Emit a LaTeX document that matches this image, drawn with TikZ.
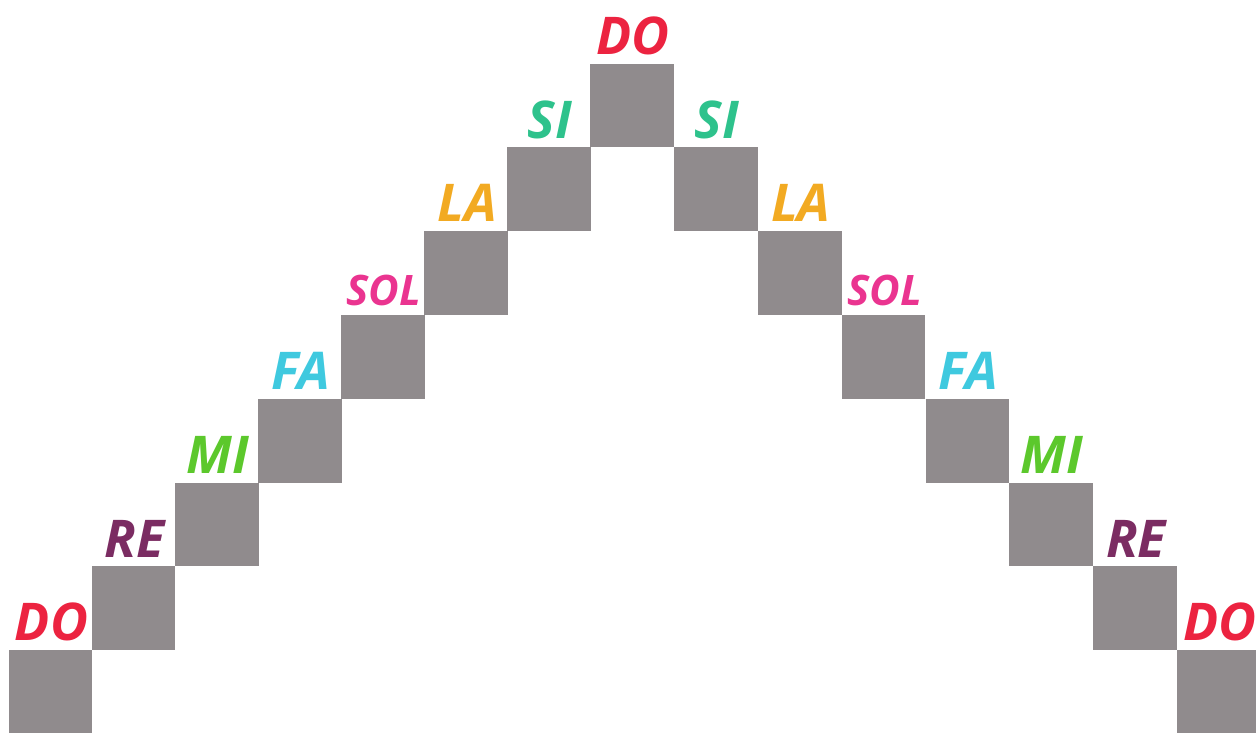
\documentclass[tikz,border=0pt]{standalone}
\usepackage{fontspec}
\setmainfont{Open Sans}
\definecolor{cdo}{HTML}{EC2340}
\definecolor{cre}{HTML}{7B2C62}
\definecolor{cmi}{HTML}{5CC82C}
\definecolor{cfa}{HTML}{3FC9DF}
\definecolor{csol}{HTML}{EA3490}
\definecolor{cla}{HTML}{F2AA22}
\definecolor{csi}{HTML}{2EC28C}
\definecolor{csq}{HTML}{908B8D}
\tikzset{
  sqbox/.style={fill=csq, draw=none, minimum width=83.6pt, minimum height=83.8pt, inner sep=0pt, anchor=north west},
  note/.style={anchor=base, inner sep=0pt, font=\fontsize{52}{52}\selectfont\bfseries\itshape},
  smallnote/.style={anchor=base, inner sep=0pt, font=\fontsize{42}{42}\selectfont\bfseries\itshape}
}
\begin{document}
\begin{tikzpicture}[x=1pt,y=1pt]
\useasboundingbox (0,0) rectangle (1256,733);
\clip (0,0) rectangle (1256,733);
% left side squares (k = 0 bottom DO ... 7 top DO)
\foreach \k/\nm/\col/\st in {0/DO/cdo/note,1/RE/cre/note,2/MI/cmi/note,3/FA/cfa/note,4/SOL/csol/smallnote,5/LA/cla/note,6/SI/csi/note,7/DO/cdo/note}{
  \node[sqbox] (L\k) at ({8.5+83.1*\k},{733-(650-83.8*\k)}) {};
  \node[\st, text=\col] (tL\k) at ([xshift=1pt,yshift=9pt]L\k.north) {\nm};
}
% right side squares (m = 1 SI ... 7 DO)
\foreach \m/\nm/\col/\st in {1/SI/csi/note,2/LA/cla/note,3/SOL/csol/smallnote,4/FA/cfa/note,5/MI/cmi/note,6/RE/cre/note,7/DO/cdo/note}{
  \node[sqbox] (R\m) at ({590.2+83.8*\m},{733-(63.4+83.8*\m)}) {};
  \node[\st, text=\col] (tR\m) at ([xshift=1pt,yshift=9pt]R\m.north) {\nm};
}
\end{tikzpicture}
\end{document}
